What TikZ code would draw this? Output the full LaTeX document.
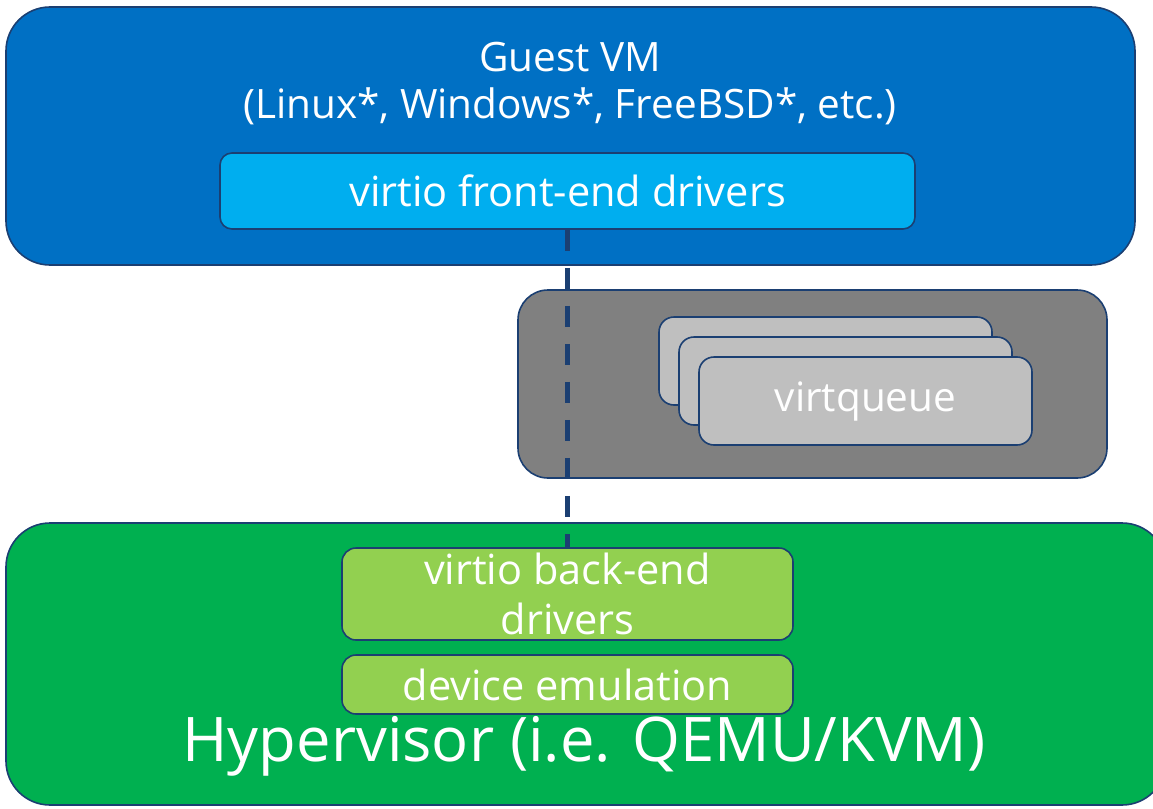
\documentclass[tikz,border=0pt]{standalone}
\usepackage{fontspec}
\setmainfont{Open Sans}
\definecolor{guestblue}{HTML}{0070C4}
\definecolor{feblue}{HTML}{00AEEF}
\definecolor{edge}{HTML}{1B3F72}
\definecolor{qgray}{HTML}{808080}
\definecolor{vqgray}{HTML}{BFBFBF}
\definecolor{hvgreen}{HTML}{00B050}
\definecolor{begreen}{HTML}{92D050}
\tikzset{
  box/.style={draw=edge, line width=1.6pt, text=white, inner sep=0pt, align=center},
  lbl/.style={text=white, inner sep=0pt, anchor=center},
}
\begin{document}
\begin{tikzpicture}[x=1pt,y=-1pt]
\useasboundingbox (0,0) rectangle (1153,808);
\clip (0,0) rectangle (1153,808);
% Guest VM
\node[box, fill=guestblue, rounded corners=44pt, minimum width=1129pt, minimum height=258pt] (guest) at (570.5,136) {};
\node[lbl, font=\fontsize{40.5}{44}\selectfont] (gtitle) at (570,57) {Guest VM};
\node[lbl, font=\fontsize{40.5}{44}\selectfont] (gsub) at (570,106) {(Linux*, Windows*, FreeBSD*, etc.)};
\node[box, fill=feblue, rounded corners=12pt, minimum width=695pt, minimum height=76pt, font=\fontsize{41.5}{44}\selectfont] (fe) at (567.5,191) {virtio front-end drivers};
% virtqueue area
\node[box, fill=qgray, rounded corners=30pt, minimum width=589pt, minimum height=188pt] (vqarea) at (812.5,384) {};
\node[box, fill=vqgray, rounded corners=15pt, minimum width=333pt, minimum height=88pt] (vq1) at (825.5,361) {};
\node[box, fill=vqgray, rounded corners=15pt, minimum width=333pt, minimum height=88pt] (vq2) at (845.5,381) {};
\node[box, fill=vqgray, rounded corners=15pt, minimum width=333pt, minimum height=88pt, font=\fontsize{40.5}{44}\selectfont] (vq3) at (865.5,401) {virtqueue};
% Hypervisor
\node[box, fill=hvgreen, rounded corners=44pt, minimum width=1160pt, minimum height=282pt] (hv) at (586,664) {};
\node[box, fill=begreen, rounded corners=14pt, minimum width=451pt, minimum height=92pt, font=\fontsize{41.5}{50}\selectfont] (be) at (567.5,594) {virtio back-end\\drivers};
\node[box, fill=begreen, rounded corners=14pt, minimum width=451pt, minimum height=59pt, font=\fontsize{41.5}{44}\selectfont] (dev) at (567.5,684.5) {device emulation};
\node[lbl, font=\fontsize{61.5}{70}\selectfont] (hvtitle) at (584,746) {Hypervisor (i.e. QEMU/KVM)};
% connector
\draw[edge, line width=5pt, dash pattern=on 21pt off 17pt] (fe.south) -- (be.north);
\end{tikzpicture}
\end{document}
